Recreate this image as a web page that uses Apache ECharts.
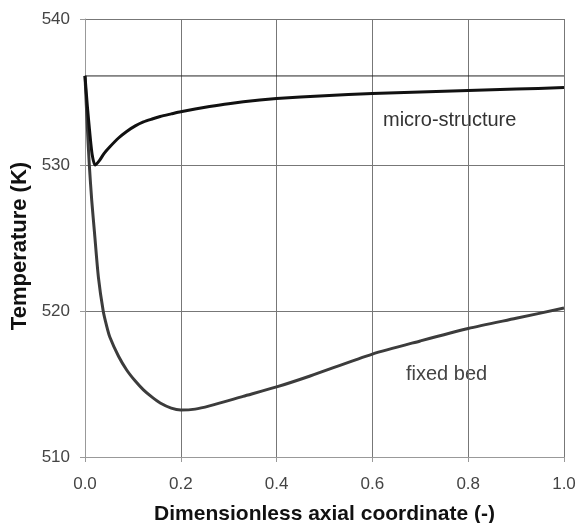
<!DOCTYPE html>
<html><head><meta charset="utf-8">
<script src="https://cdn.jsdelivr.net/npm/echarts@6/dist/echarts.min.js"></script>
<style>html,body{margin:0;padding:0;background:#fff}#c{width:576px;height:523px}</style>
</head><body><div id="c"></div>
<script>
const xTicks = [0.0, 0.2, 0.4, 0.6, 0.8, 1.0];
const yTicks = [510, 520, 530, 540];

const microX = [0, 0.005, 0.01, 0.015, 0.021, 0.03, 0.04, 0.052, 0.07, 0.087, 0.105, 0.122, 0.14, 0.157, 0.18, 0.2, 0.26, 0.3, 0.365, 0.4, 0.5, 0.6, 0.7, 0.8, 0.9, 1.0];
const microT = [536.1, 534.0, 532.2, 530.7, 530.0, 530.3, 530.8, 531.25, 531.85, 532.3, 532.68, 532.95, 533.15, 533.32, 533.5, 533.65, 534.0, 534.2, 534.45, 534.55, 534.75, 534.9, 535.0, 535.1, 535.2, 535.3];

const fixedX = [0, 0.005, 0.009, 0.014, 0.02, 0.028, 0.038, 0.045, 0.052, 0.07, 0.087, 0.105, 0.122, 0.14, 0.157, 0.18, 0.2, 0.23, 0.26, 0.33, 0.4, 0.47, 0.6, 0.7, 0.8, 0.9, 1.0];
const fixedT = [536.1, 532.5, 530.0, 527.6, 525.3, 522.3, 520.0, 519.0, 518.2, 516.9, 515.96, 515.2, 514.6, 514.1, 513.7, 513.35, 513.22, 513.28, 513.5, 514.15, 514.8, 515.55, 517.05, 517.95, 518.8, 519.5, 520.2];

const inletX = [0, 1.0];
const inletT = [536.1, 536.1];

const labels = ['micro-structure', 'fixed bed'];

const zip = (a, b) => a.map((v, i) => [v, b[i]]);

const chart = echarts.init(document.getElementById('c'));
chart.setOption({
  animation: false,
  backgroundColor: '#fff',
  grid: { left: 85, right: 12, top: 19, bottom: 66, outerBoundsMode: 'none', containLabel: false },
  xAxis: {
    type: 'value', min: 0, max: 1, interval: 0.2,
    name: 'Dimensionless axial coordinate (-)',
    nameLocation: 'middle', nameGap: 47,
    nameTextStyle: { fontFamily: 'Liberation Sans', fontWeight: 'bold', fontSize: 21, color: '#111' },
    axisLine: { show: true, lineStyle: { color: '#999', width: 1 } },
    axisTick: { show: true, length: 5, lineStyle: { color: '#999' } },
    axisLabel: { fontFamily: 'Liberation Sans', fontSize: 17, color: '#444', margin: 19,
      formatter: v => v.toFixed(1) },
    splitLine: { show: true, lineStyle: { color: '#777', width: 1 } }
  },
  yAxis: {
    type: 'value', min: 510, max: 540, interval: 10,
    name: 'Temperature (K)',
    nameLocation: 'middle', nameGap: 50, nameRotate: 90,
    nameTextStyle: { fontFamily: 'Liberation Sans', fontWeight: 'bold', fontSize: 22, color: '#111', padding: [0, 16, 0, 0] },
    axisLine: { show: true, lineStyle: { color: '#999', width: 1 } },
    axisTick: { show: true, length: 5, lineStyle: { color: '#999' } },
    axisLabel: { fontFamily: 'Liberation Sans', fontSize: 17, color: '#444', margin: 15 },
    splitLine: { show: true, lineStyle: { color: '#777', width: 1 } }
  },
  series: [
    { type: 'line', data: zip(inletX, inletT), symbol: 'none', lineStyle: { color: '#222', width: 1 }, z: 3 },
    { name: labels[1], type: 'line', data: zip(fixedX, fixedT), symbol: 'none', smooth: 0.25,
      lineStyle: { color: '#3c3c3c', width: 3 }, z: 4 },
    { name: labels[0], type: 'line', data: zip(microX, microT), symbol: 'none', smooth: 0.25,
      lineStyle: { color: '#111', width: 3 }, z: 5 }
  ],
  graphic: [
    { type: 'text', left: 383, top: 110, style: { text: labels[0], fontFamily: 'Liberation Sans', fontSize: 20, fill: '#333' } },
    { type: 'text', left: 406, top: 364, style: { text: labels[1], fontFamily: 'Liberation Sans', fontSize: 20, fill: '#444' } }
  ]
});
</script>
</body></html>
